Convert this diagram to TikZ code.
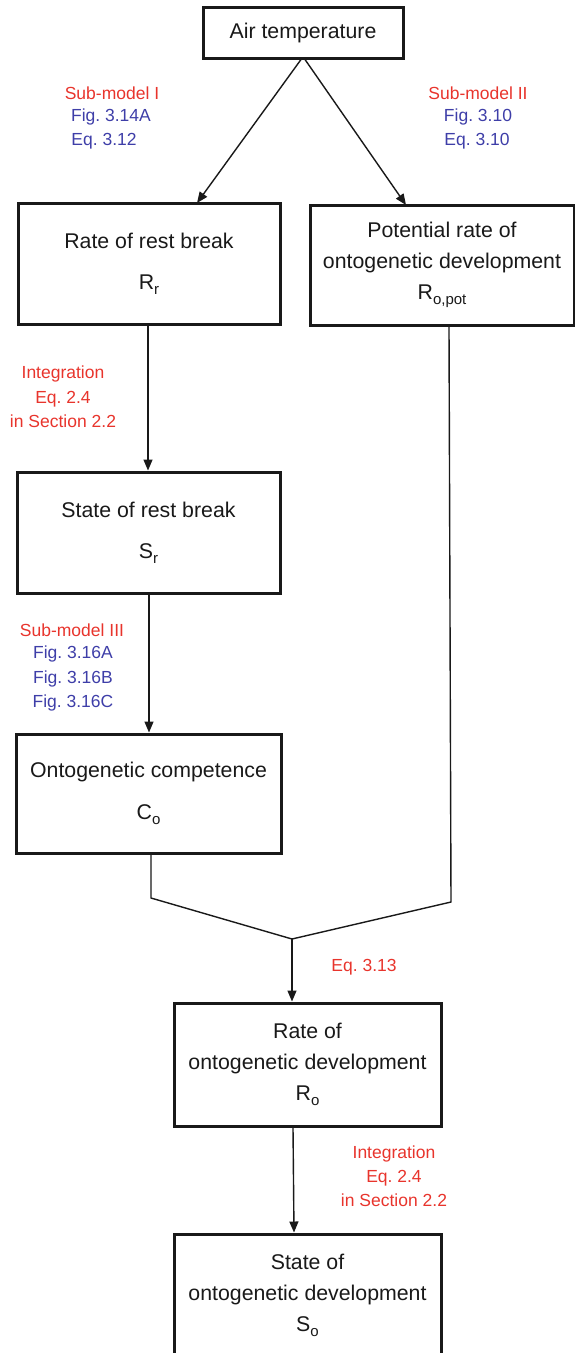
\documentclass[tikz,border=0pt]{standalone}
\usepackage{fontspec}
\setmainfont{Liberation Sans}
\usetikzlibrary{arrows.meta}
\frenchspacing
\definecolor{labred}{RGB}{232,52,44}
\definecolor{labblue}{RGB}{62,62,168}
\newcommand\sbs[1]{\raisebox{-0.45ex}{\fontsize{15}{15}\selectfont #1}}
\begin{document}
\begin{tikzpicture}[x=1pt,y=-1pt,
  box/.style={draw=black!90,line width=3pt,inner sep=0pt,align=center,
    font=\fontsize{21.3}{31}\selectfont,text=black!90},
  conn/.style={line width=1.4pt,draw=black!90},
  arr/.style={conn,-{Triangle[length=11pt,width=9pt]}},
  redlab/.style={text=labred,font=\fontsize{17.5}{24}\selectfont,inner sep=0pt},
  bluelab/.style={text=labblue,font=\fontsize{17.5}{24}\selectfont,inner sep=0pt}]
\useasboundingbox (0,0) rectangle (575,1353);
% boxes
\node[box,minimum width=200pt,minimum height=51pt] (air) at (303,32.5) {Air temperature};
\node[box,minimum width=262pt,minimum height=121pt] (rr) at (149,263.5) {Rate of rest break\\[10pt]R\sbs{r}};
\node[box,minimum width=264pt,minimum height=120pt] (pot) at (442,265) {Potential rate of\\ontogenetic development\\R\sbs{o,pot}};
\node[box,minimum width=263pt,minimum height=121pt] (sr) at (148.5,532.5) {State of rest break\\[10pt]S\sbs{r}};
\node[box,minimum width=265pt,minimum height=119pt] (co) at (148.5,793.5) {Ontogenetic competence\\[11pt]C\sbs{o}};
\node[box,minimum width=267pt,minimum height=123pt] (ro) at (307.5,1064.5) {Rate of\\ontogenetic development\\R\sbs{o}};
\node[box,minimum width=267pt,minimum height=123pt] (so) at (307.5,1295.5) {State of\\ontogenetic development\\S\sbs{o}};
% named coordinates
\coordinate (rrin) at (197,203);
\coordinate (potin) at (406,205);
\coordinate (cobend) at (151,898);
\coordinate (potbend) at (451,902);
\coordinate (merge) at (292,939);
% connectors
\draw[arr] ([xshift=-2pt]air.south) -- (rrin);
\draw[arr] ([xshift=2pt]air.south) -- (potin);
\draw[arr] (rr.south -| 148,0) -- (sr.north -| 148,0);
\draw[arr] (sr.south -| 149,0) -- (co.north -| 149,0);
\draw[conn] (co.south -| cobend) -- (cobend) -- (merge);
\draw[conn] (pot.south -| 449,0) -- (potbend) -- (merge);
\draw[arr] (merge) -- (ro.north -| merge);
\draw[arr] (ro.south -| 293,0) -- (so.north -| 294,0);
% labels
\node[redlab] (l1a) at (112,93) {Sub-model I};
\node[bluelab] (l1b) at (111,117) {Fig. 3.14A};
\node[bluelab] (l1c) at (104,141) {Eq. 3.12};
\node[redlab] (l2a) at (478,93) {Sub-model II};
\node[bluelab] (l2b) at (478,117) {Fig. 3.10};
\node[bluelab] (l2c) at (477,141) {Eq. 3.10};
\node[redlab,align=center,font=\fontsize{17.5}{24.5}\selectfont] (l3) at (63,397) {Integration\\Eq. 2.4\\in Section 2.2};
\node[redlab] (l4a) at (72,630) {Sub-model III};
\node[bluelab,align=center,font=\fontsize{17.5}{24.5}\selectfont] (l4b) at (73,678.5) {Fig. 3.16A\\Fig. 3.16B\\Fig. 3.16C};
\node[redlab] (l5) at (364,967) {Eq. 3.13};
\node[redlab,align=center,font=\fontsize{17.5}{24}\selectfont] (l6) at (394,1176) {Integration\\Eq. 2.4\\in Section 2.2};
\end{tikzpicture}
\end{document}
